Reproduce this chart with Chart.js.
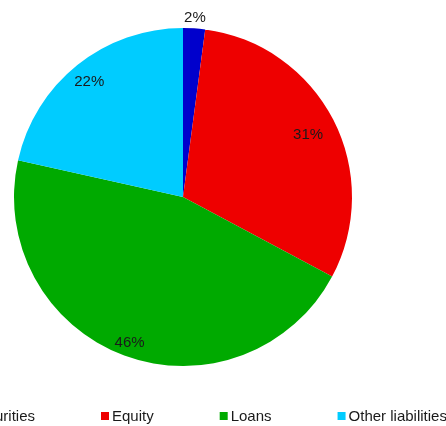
<!DOCTYPE html>
<html>
<head>
<meta charset="utf-8">
<script src="https://cdn.jsdelivr.net/npm/chart.js@4/dist/chart.umd.min.js"></script>
<style>
html,body{margin:0;padding:0;background:#fff;}
canvas{display:block;}
</style>
</head>
<body>
<canvas id="c" width="446" height="426"></canvas>
<script>
const categories = ["Debt securities", "Equity", "Loans", "Other liabilities"];
const values = [2.1, 30.7, 45.7, 21.5];
const valueLabels = ["2%", "31%", "46%", "22%"];
const colors = ["#0000CC", "#EE0000", "#00AA00", "#00CCFF"];

const labelPlugin = {
  id: 'sliceLabels',
  afterDatasetsDraw(chart, args, opts) {
    const ctx = chart.ctx;
    const meta = chart.getDatasetMeta(0);
    ctx.save();
    ctx.font = '15px "Liberation Sans", Arial, sans-serif';
    ctx.fillStyle = '#1a1a1a';
    ctx.textAlign = 'center';
    ctx.textBaseline = 'middle';
    meta.data.forEach((arc, i) => {
      const p = arc.getProps(['x','y','startAngle','endAngle','outerRadius'], true);
      const mid = (p.startAngle + p.endAngle) / 2;
      const r = p.outerRadius * opts.factors[i];
      ctx.fillText(valueLabels[i], p.x + Math.cos(mid) * r, p.y + Math.sin(mid) * r + 2);
    });
    ctx.restore();
  }
};

const legendPlugin = {
  id: 'bottomLegend',
  afterDraw(chart, args, opts) {
    const ctx = chart.ctx;
    ctx.save();
    ctx.font = '15px "Liberation Sans", Arial, sans-serif';
    ctx.textBaseline = 'middle';
    ctx.textAlign = 'left';
    const box = 8, pad = 3;
    const w0 = ctx.measureText(categories[0]).width;
    let x = opts.secondX - opts.gap - w0 - pad - box;
    categories.forEach((name, i) => {
      ctx.fillStyle = colors[i];
      ctx.fillRect(x, opts.y - 4, box, box);
      ctx.fillStyle = '#1a1a1a';
      ctx.fillText(name, x + box + pad, opts.y + 0.5);
      x += box + pad + ctx.measureText(name).width + opts.gap;
    });
    ctx.restore();
  }
};

new Chart(document.getElementById('c'), {
  type: 'pie',
  data: {
    labels: categories,
    datasets: [{
      data: values,
      backgroundColor: colors,
      borderWidth: 0
    }]
  },
  options: {
    responsive: false,
    animation: false,
    layout: { padding: { left: 14, right: 94, top: 28, bottom: 60 } },
    plugins: {
      legend: { display: false },
      tooltip: { enabled: false },
      sliceLabels: { factors: [1.072, 0.832, 0.91, 0.887] },
      bottomLegend: { secondX: 101, gap: 66, y: 416 }
    }
  },
  plugins: [labelPlugin, legendPlugin]
});
</script>
</body>
</html>
